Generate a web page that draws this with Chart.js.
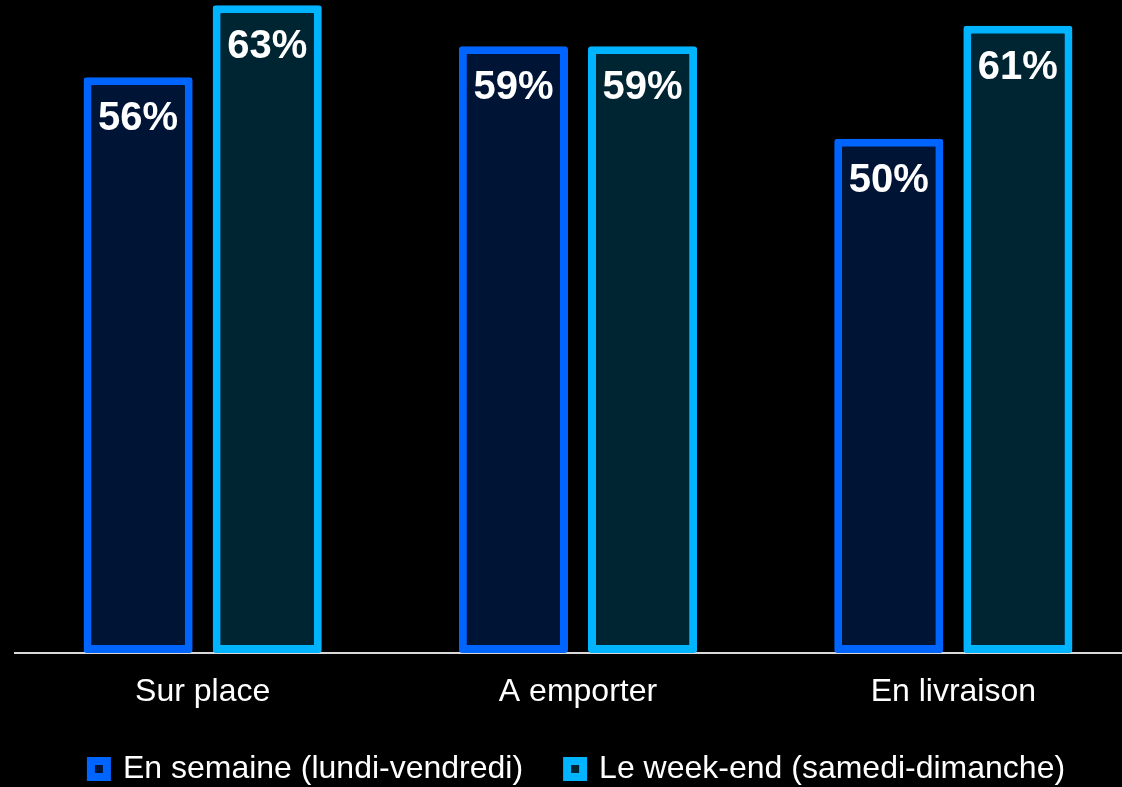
<!DOCTYPE html>
<html>
<head>
<meta charset="utf-8">
<script src="https://cdn.jsdelivr.net/npm/chart.js@4/dist/chart.umd.min.js"></script>
<style>
  html, body { margin: 0; padding: 0; background: #000; overflow: hidden; }
  #wrap { position: relative; width: 1141px; height: 795px; }
</style>
</head>
<body>
<div id="wrap"><canvas id="myChart"></canvas></div>
<script>
const categories = ['Sur place', 'A emporter', 'En livraison'];
const semaine = [56, 59, 50];
const weekEnd = [63, 59, 61];
const seriesNames = ['En semaine (lundi-vendredi)', 'Le week-end (samedi-dimanche)'];

// étiquettes de valeur dans le haut des barres
const valueLabels = {
    id: 'valueLabels',
    afterDatasetsDraw(chart) {
        const ctx = chart.ctx;
        ctx.save();
        ctx.fillStyle = '#ffffff';
        ctx.font = 'bold 40px "Liberation Sans", Arial, sans-serif';
        ctx.textAlign = 'center';
        ctx.textBaseline = 'middle';
        chart.data.datasets.forEach((ds, i) => {
            chart.getDatasetMeta(i).data.forEach((bar, j) => {
                ctx.fillText(ds.data[j] + '%', bar.x, bar.y + 42);
            });
        });
        ctx.restore();
    }
};

const ctx = document.getElementById('myChart').getContext('2d');
new Chart(ctx, {
    type: 'bar',
    data: {
        labels: categories,
        datasets: [{
            label: seriesNames[0],
            data: semaine,
            backgroundColor: '#001536',
            borderColor: '#0064ff',
            borderWidth: 8,
            borderRadius: 3,
            borderSkipped: false
        }, {
            label: seriesNames[1],
            data: weekEnd,
            backgroundColor: '#002532',
            borderColor: '#00b4ff',
            borderWidth: 8,
            borderRadius: 3,
            borderSkipped: false
        }]
    },
    options: {
        responsive: true,
        maintainAspectRatio: false,
        animation: false,
        layout: { padding: { left: 15, right: 0, top: 0, bottom: 0 } },
        datasets: {
            bar: { categoryPercentage: 0.688, barPercentage: 0.845 }
        },
        plugins: {
            legend: {
                position: 'bottom',
                labels: {
                    color: '#ffffff',
                    boxWidth: 16,
                    boxHeight: 16,
                    padding: 44,
                    font: { family: '"Liberation Sans", Arial, sans-serif', size: 32 }
                }
            },
            tooltip: { enabled: false }
        },
        scales: {
            x: {
                z: 1,
                afterFit(scale) { scale.height = 56; },
                grid: { display: false, drawTicks: false },
                border: { display: true, color: '#d9d9d9', width: 2 },
                ticks: {
                    color: '#ffffff',
                    padding: 20,
                    font: { family: '"Liberation Sans", Arial, sans-serif', size: 32 }
                }
            },
            y: {
                display: false,
                min: 0,
                max: 63.5
            }
        }
    },
    plugins: [valueLabels]
});
</script>
</body>
</html>
